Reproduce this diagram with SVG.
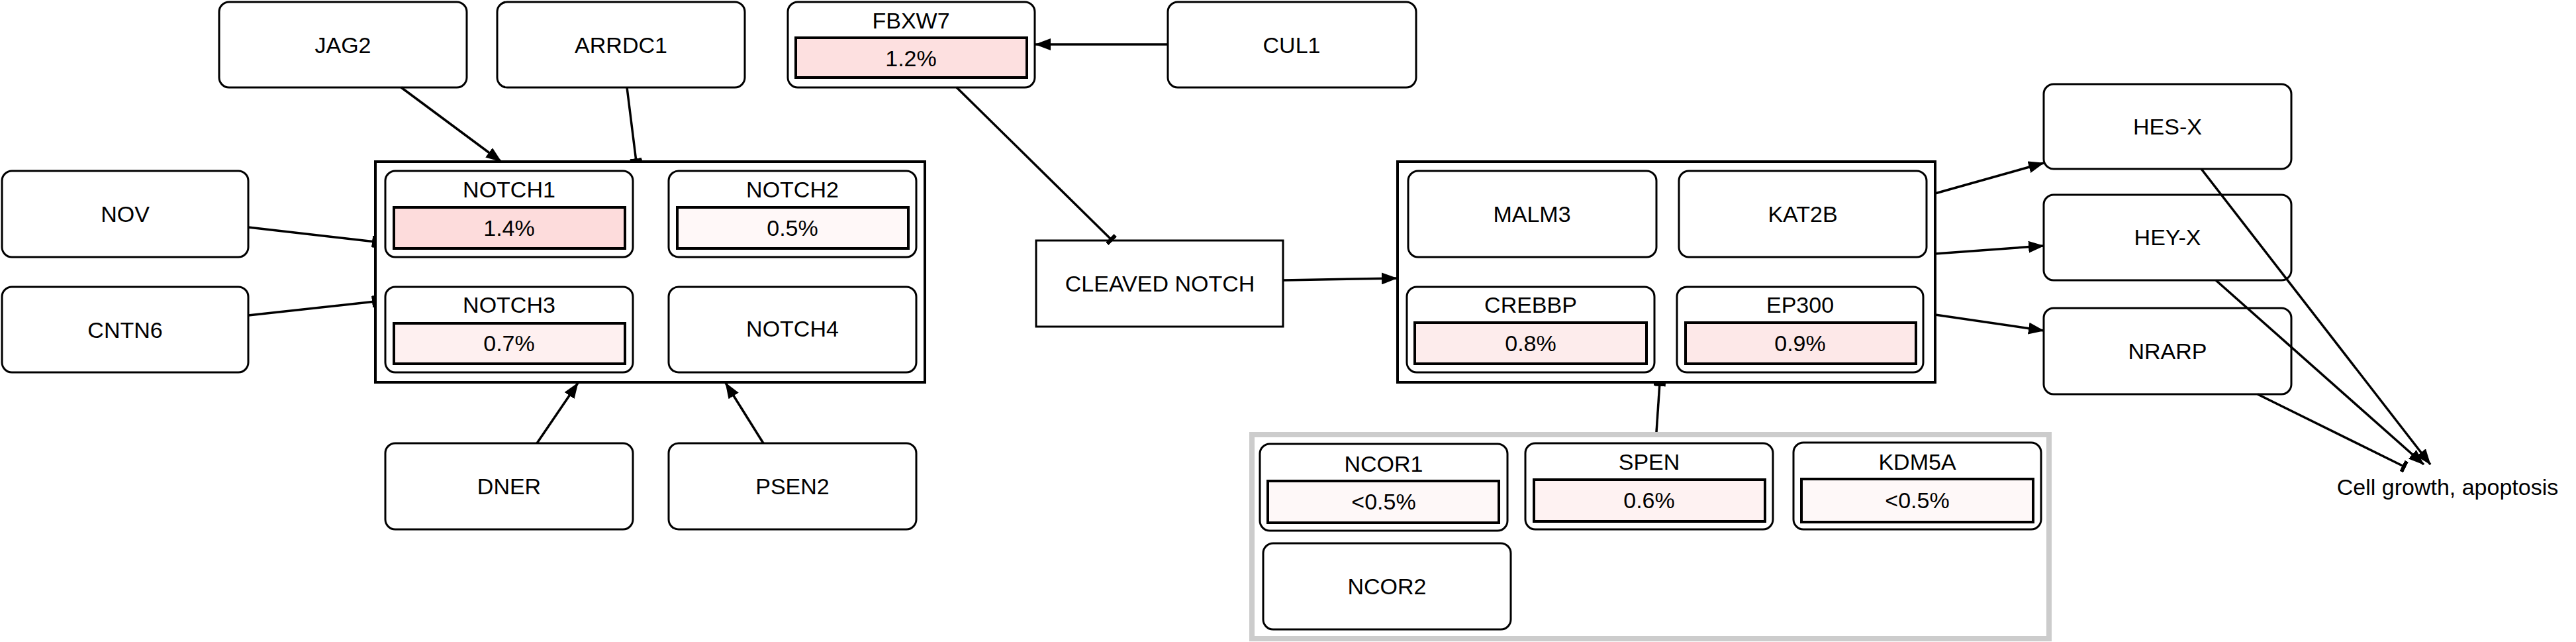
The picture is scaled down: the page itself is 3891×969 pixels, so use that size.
<svg xmlns="http://www.w3.org/2000/svg" width="3891" height="969" viewBox="0 0 3891 969">
<style>
.n{fill:#fff;stroke:#000;stroke-width:3}
.c{fill:#fff;stroke:#000;stroke-width:4}
.b{stroke:#000;stroke-width:4}
.t{font-family:"Liberation Sans",Arial,sans-serif;font-size:34px;fill:#000;text-anchor:middle}
.e{fill:none;stroke:#000;stroke-width:3.5}
.a{marker-end:url(#arr)}
.i{marker-end:url(#tee)}
</style>
<defs>
<marker id="arr" markerUnits="userSpaceOnUse" viewBox="0 0 24 18" refX="23" refY="9" markerWidth="24" markerHeight="18" orient="auto"><path d="M0,0 L24,9 L0,18 z" fill="#000"/></marker>
<marker id="tee" markerUnits="userSpaceOnUse" viewBox="0 0 6 18" refX="5" refY="9" markerWidth="6" markerHeight="18" orient="auto"><rect x="0" y="0" width="6" height="18" fill="#000"/></marker>
</defs>
<rect width="3891" height="969" fill="#fff"/>

<g id="JAG2"><rect class="n" x="331" y="3" width="374" height="129" rx="15"/><text class="t" x="518" y="80">JAG2</text></g>
<g id="ARRDC1"><rect class="n" x="751" y="3" width="374" height="129" rx="15"/><text class="t" x="938" y="80">ARRDC1</text></g>
<g id="FBXW7"><rect class="n" x="1190" y="3" width="373" height="129" rx="15"/><text class="t" x="1376" y="43">FBXW7</text><rect class="b" x="1202" y="57" width="349" height="60" fill="#fde0e0"/><text class="t" x="1376" y="100">1.2%</text></g>
<g id="CUL1"><rect class="n" x="1764" y="3" width="375" height="129" rx="15"/><text class="t" x="1951" y="80">CUL1</text></g>
<g id="NOV"><rect class="n" x="3" y="258" width="372" height="130" rx="15"/><text class="t" x="189" y="335">NOV</text></g>
<g id="CNTN6"><rect class="n" x="3" y="433" width="372" height="129" rx="15"/><text class="t" x="189" y="510">CNTN6</text></g>

<g id="NOTCH_group">
<rect class="c" x="567" y="244" width="830" height="333"/>
<g id="NOTCH1"><rect class="n" x="582" y="258" width="374" height="130" rx="15"/><text class="t" x="769" y="298">NOTCH1</text><rect class="b" x="595" y="313" width="349" height="62" fill="#fddcdc"/><text class="t" x="769" y="356">1.4%</text></g>
<g id="NOTCH2"><rect class="n" x="1010" y="258" width="374" height="130" rx="15"/><text class="t" x="1197" y="298">NOTCH2</text><rect class="b" x="1023" y="313" width="349" height="62" fill="#fff8f8"/><text class="t" x="1197" y="356">0.5%</text></g>
<g id="NOTCH3"><rect class="n" x="582" y="433" width="374" height="129" rx="15"/><text class="t" x="769" y="472">NOTCH3</text><rect class="b" x="595" y="488" width="349" height="61" fill="#fef0f0"/><text class="t" x="769" y="530">0.7%</text></g>
<g id="NOTCH4"><rect class="n" x="1010" y="433" width="374" height="129" rx="15"/><text class="t" x="1197" y="508">NOTCH4</text></g>
</g>

<g id="DNER"><rect class="n" x="582" y="669" width="374" height="130" rx="15"/><text class="t" x="769" y="746">DNER</text></g>
<g id="PSEN2"><rect class="n" x="1010" y="669" width="374" height="130" rx="15"/><text class="t" x="1197" y="746">PSEN2</text></g>

<g id="CLEAVED_NOTCH"><rect class="n" x="1565" y="363" width="373" height="130"/><text class="t" x="1752" y="440">CLEAVED NOTCH</text></g>

<g id="COACT_group">
<rect class="c" x="2111" y="244" width="812" height="333"/>
<g id="MALM3"><rect class="n" x="2127" y="258" width="375" height="130" rx="15"/><text class="t" x="2314" y="335">MALM3</text></g>
<g id="KAT2B"><rect class="n" x="2536" y="258" width="374" height="130" rx="15"/><text class="t" x="2723" y="335">KAT2B</text></g>
<g id="CREBBP"><rect class="n" x="2125" y="433" width="374" height="129" rx="15"/><text class="t" x="2312" y="472">CREBBP</text><rect class="b" x="2137" y="487" width="350" height="62" fill="#fdecec"/><text class="t" x="2312" y="530">0.8%</text></g>
<g id="EP300"><rect class="n" x="2533" y="433" width="372" height="129" rx="15"/><text class="t" x="2719" y="472">EP300</text><rect class="b" x="2546" y="487" width="348" height="62" fill="#fde8e8"/><text class="t" x="2719" y="530">0.9%</text></g>
</g>

<g id="COREP_group">
<rect x="1891" y="656" width="1204" height="308" fill="#fff" stroke="#cccccc" stroke-width="8"/>
<g id="NCOR1"><rect class="n" x="1903" y="670" width="374" height="131" rx="15"/><text class="t" x="2090" y="712">NCOR1</text><rect class="b" x="1915" y="726" width="349" height="63" fill="#fef8f8"/><text class="t" x="2090" y="769">&lt;0.5%</text></g>
<g id="SPEN"><rect class="n" x="2304" y="669" width="374" height="130" rx="15"/><text class="t" x="2491" y="709">SPEN</text><rect class="b" x="2317" y="724" width="349" height="63" fill="#fef2f2"/><text class="t" x="2491" y="767">0.6%</text></g>
<g id="KDM5A"><rect class="n" x="2709" y="668" width="374" height="131" rx="15"/><text class="t" x="2896" y="709">KDM5A</text><rect class="b" x="2721" y="723" width="350" height="65" fill="#fef8f8"/><text class="t" x="2896" y="767">&lt;0.5%</text></g>
<g id="NCOR2"><rect class="n" x="1908" y="820" width="374" height="130" rx="15"/><text class="t" x="2095" y="897">NCOR2</text></g>
</g>

<g id="HES-X"><rect class="n" x="3087" y="127" width="374" height="128" rx="15"/><text class="t" x="3274" y="203">HES-X</text></g>
<g id="HEY-X"><rect class="n" x="3087" y="294" width="374" height="129" rx="15"/><text class="t" x="3274" y="370">HEY-X</text></g>
<g id="NRARP"><rect class="n" x="3087" y="465" width="374" height="130" rx="15"/><text class="t" x="3274" y="542">NRARP</text></g>
<g id="CELL"><text class="t" x="3697" y="747">Cell growth, apoptosis</text></g>

<g id="connectors">
<line class="e a" x1="606" y1="132" x2="757" y2="244"/>
<line class="e i" x1="947" y1="132" x2="961" y2="244"/>
<line class="e i" x1="375" y1="343" x2="567" y2="365"/>
<line class="e i" x1="375" y1="476" x2="567" y2="455"/>
<line class="e a" x1="811" y1="669" x2="873" y2="578"/>
<line class="e a" x1="1153" y1="669" x2="1096" y2="578"/>
<line class="e a" x1="1764" y1="67" x2="1564" y2="67"/>
<line class="e i" x1="1445" y1="132" x2="1680" y2="363"/>
<line class="e a" x1="1938" y1="423" x2="2110" y2="420"/>
<line class="e i" x1="2502" y1="652" x2="2507" y2="578"/>
<line class="e a" x1="2923" y1="292" x2="3087" y2="246"/>
<line class="e a" x1="2923" y1="383" x2="3087" y2="371"/>
<line class="e a" x1="2923" y1="475" x2="3087" y2="499"/>
<line class="e a" x1="3325" y1="255" x2="3671" y2="701"/>
<line class="e a" x1="3347" y1="423" x2="3661" y2="701"/>
<line class="e i" x1="3410" y1="595" x2="3633" y2="705"/>
</g>
</svg>
